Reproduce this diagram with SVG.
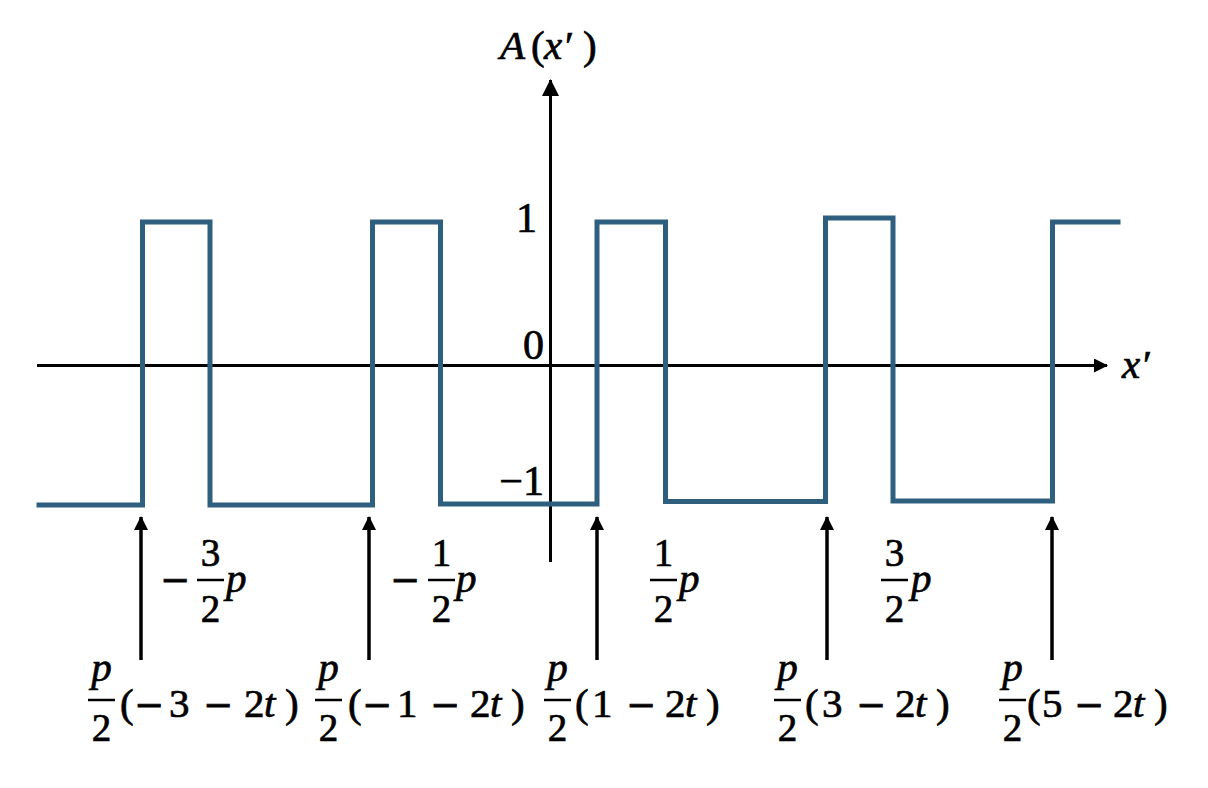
<svg xmlns="http://www.w3.org/2000/svg" width="1208" height="788" viewBox="0 0 1208 788">
<style>
  .ax{stroke:#000;stroke-width:3;fill:none}
  .cn{stroke:#000;stroke-width:3.5;fill:none}
  .wave{stroke:#2F5F7F;stroke-width:5;fill:none;stroke-linejoin:miter;stroke-linecap:square}
  .bar{stroke:#000;stroke-width:2.5}
  text{font-family:"Liberation Serif","Times New Roman",serif;font-size:41px;fill:#000;stroke:#000;stroke-width:0.7}
  .it{font-style:italic}
  .tk{font-size:42px}
  .mn{font-family:"DejaVu Serif","Liberation Serif",serif;font-size:36px}
  .fr{font-size:39px}
</style>
<defs>
  <marker id="ahx" markerUnits="userSpaceOnUse" markerWidth="14" markerHeight="14" refX="13" refY="7" orient="auto">
    <path d="M0,0 L14,7 L0,14 Z" fill="#000"/>
  </marker>
  <marker id="ahy" markerUnits="userSpaceOnUse" markerWidth="17" markerHeight="17" refX="16" refY="8.5" orient="auto">
    <path d="M0,0 L17,8.5 L0,17 Z" fill="#000"/>
  </marker>
</defs>
<rect width="1208" height="788" fill="#fff"/>

<g id="axes">
  <line class="ax" x1="37" y1="365.5" x2="1107" y2="365.5" marker-end="url(#ahx)"/>
  <line class="ax" x1="550.5" y1="562" x2="550.5" y2="80" marker-end="url(#ahy)"/>
</g>

<g id="waveform">
  <path class="wave" d="M39,505 H142.5 V222 H210 V505 H372.5 V222 H440.5 V504 H597 V222 H665.5 V501.5 H825.5 V218 H893 V501 H1052.5 V222 H1118"/>
</g>

<g id="connectors">
  <line class="cn" x1="141" y1="660" x2="141" y2="517" marker-end="url(#ahx)"/>
  <line class="cn" x1="369" y1="660" x2="369" y2="517" marker-end="url(#ahx)"/>
  <line class="cn" x1="597" y1="660" x2="597" y2="517" marker-end="url(#ahx)"/>
  <line class="cn" x1="827" y1="660" x2="827" y2="517" marker-end="url(#ahx)"/>
  <line class="cn" x1="1052" y1="660" x2="1052" y2="517" marker-end="url(#ahx)"/>
</g>

<g id="axis-labels">
  <text x="500" y="59"><tspan class="it">A</tspan><tspan x="531">(</tspan><tspan x="544" class="it">x</tspan><tspan x="565">′</tspan><tspan x="583">)</tspan></text>
  <text x="1122" y="378"><tspan class="it">x</tspan><tspan x="1143">′</tspan></text>
  <text class="tk" x="537" y="232" text-anchor="end">1</text>
  <text class="tk" x="544" y="359" text-anchor="end">0</text>
  <text class="tk" x="544" y="495" text-anchor="end">−1</text>
</g>

<g id="label-m3-2p">
  <text class="mn" x="175" y="592" text-anchor="middle">−</text>
  <text class="fr" x="210.5" y="566" text-anchor="middle">3</text>
  <line class="bar" x1="197" y1="580" x2="224" y2="580"/>
  <text class="fr" x="210.5" y="622" text-anchor="middle">2</text>
  <text class="it" x="226" y="592">p</text>
</g>
<g id="label-m1-2p">
  <text class="mn" x="405" y="592" text-anchor="middle">−</text>
  <text class="fr" x="441.5" y="566" text-anchor="middle">1</text>
  <line class="bar" x1="428" y1="580" x2="455" y2="580"/>
  <text class="fr" x="441.5" y="622" text-anchor="middle">2</text>
  <text class="it" x="456" y="592">p</text>
</g>
<g id="label-1-2p">
  <text class="fr" x="663.5" y="566" text-anchor="middle">1</text>
  <line class="bar" x1="650" y1="580" x2="677" y2="580"/>
  <text class="fr" x="663.5" y="622" text-anchor="middle">2</text>
  <text class="it" x="679" y="592">p</text>
</g>
<g id="label-3-2p">
  <text class="fr" x="894.5" y="566" text-anchor="middle">3</text>
  <line class="bar" x1="881" y1="580" x2="908" y2="580"/>
  <text class="fr" x="894.5" y="622" text-anchor="middle">2</text>
  <text class="it" x="911" y="592">p</text>
</g>

<g id="label-pos-m3">
  <text class="it" x="101.5" y="681" text-anchor="middle">p</text>
  <line class="bar" x1="88" y1="700" x2="115" y2="700"/>
  <text class="fr" x="101.5" y="741" text-anchor="middle">2</text>
  <text x="120" y="717">(<tspan class="mn" x="134">−</tspan><tspan x="169">3</tspan><tspan class="mn" x="203">−</tspan><tspan x="244">2</tspan><tspan class="it" x="264">t</tspan><tspan x="285">)</tspan></text>
</g>
<g id="label-pos-m1">
  <text class="it" x="328.5" y="681" text-anchor="middle">p</text>
  <line class="bar" x1="315" y1="700" x2="342" y2="700"/>
  <text class="fr" x="328.5" y="741" text-anchor="middle">2</text>
  <text x="348" y="717">(<tspan class="mn" x="362">−</tspan><tspan x="397">1</tspan><tspan class="mn" x="430">−</tspan><tspan x="470">2</tspan><tspan class="it" x="490">t</tspan><tspan x="511">)</tspan></text>
</g>
<g id="label-pos-1">
  <text class="it" x="557.5" y="681" text-anchor="middle">p</text>
  <line class="bar" x1="544" y1="700" x2="571" y2="700"/>
  <text class="fr" x="557.5" y="741" text-anchor="middle">2</text>
  <text x="575" y="717">(<tspan x="592">1</tspan><tspan class="mn" x="626">−</tspan><tspan x="665">2</tspan><tspan class="it" x="685">t</tspan><tspan x="706">)</tspan></text>
</g>
<g id="label-pos-3">
  <text class="it" x="787.5" y="681" text-anchor="middle">p</text>
  <line class="bar" x1="774" y1="700" x2="801" y2="700"/>
  <text class="fr" x="787.5" y="741" text-anchor="middle">2</text>
  <text x="805" y="717">(<tspan x="822">3</tspan><tspan class="mn" x="856">−</tspan><tspan x="895">2</tspan><tspan class="it" x="915">t</tspan><tspan x="936">)</tspan></text>
</g>
<g id="label-pos-5">
  <text class="it" x="1012.5" y="681" text-anchor="middle">p</text>
  <line class="bar" x1="999" y1="700" x2="1026" y2="700"/>
  <text class="fr" x="1012.5" y="741" text-anchor="middle">2</text>
  <text x="1027" y="717">(<tspan x="1042">5</tspan><tspan class="mn" x="1074">−</tspan><tspan x="1113">2</tspan><tspan class="it" x="1133">t</tspan><tspan x="1154">)</tspan></text>
</g>
</svg>
